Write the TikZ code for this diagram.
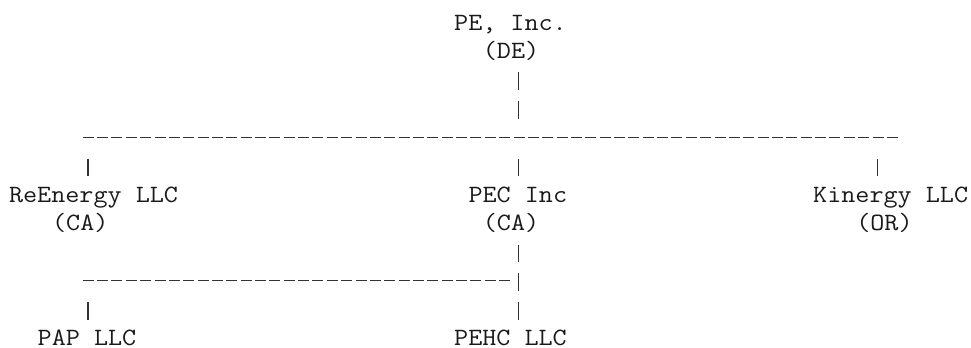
\documentclass[tikz,border=0pt]{standalone}
\usepackage{fontspec}
\setmonofont[FakeStretch=1.1]{Latin Modern Mono}
\newcommand\colx[1]{(9+(#1)*14.36)}
\newcommand\rowy[1]{(30+(#1)*28.7)}
\begin{document}
\begin{tikzpicture}[x=0.75pt,y=-0.75pt,
  lbl/.style={anchor=base west,inner sep=0pt,outer sep=0pt,
    font=\ttfamily\fontsize{18.65pt}{21.5pt}\selectfont,text=black!90},
  pipes/.style={draw=black!80,line width=0.9pt,dash pattern=on 13.125pt off 8.4pt},
  hyph/.style={draw=black!80,line width=0.9pt,dash pattern=on 8.25pt off 2.52pt}]
\useasboundingbox (0,0) rectangle (971,347);
% entities
\node[lbl] (pe)     at ({\colx{31}},{\rowy{0}}) {PE, Inc.};
\node[lbl] (de)     at ({\colx{33}},{\rowy{1}}) {(DE)};
\node[lbl] (reen)   at ({\colx{0}},{\rowy{6}})  {ReEnergy LLC};
\node[lbl] (reenst) at ({\colx{3}},{\rowy{7}})  {(CA)};
\node[lbl] (pec)    at ({\colx{32}},{\rowy{6}}) {PEC Inc};
\node[lbl] (pecst)  at ({\colx{33}},{\rowy{7}}) {(CA)};
\node[lbl] (kin)    at ({\colx{56}},{\rowy{6}}) {Kinergy LLC};
\node[lbl] (kinst)  at ({\colx{59}},{\rowy{7}}) {(OR)};
\node[lbl] (pap)    at ({\colx{2}},{\rowy{11}}) {PAP LLC};
\node[lbl] (pehc)   at ({\colx{31}},{\rowy{11}}) {PEHC LLC};
% connector end points
\coordinate (peDown)   at ({\colx{35.5}},{\rowy{2}-15});
\coordinate (peBus)    at ({\colx{35.5}},{\rowy{3}+2.5});
\coordinate (busL)     at ({\colx{5}+1.9},{\rowy{4}-7.5});
\coordinate (busR)     at ({\colx{61}+12.9},{\rowy{4}-7.5});
\coordinate (reenUp)   at ({\colx{5.5}},{\rowy{5}-15});
\coordinate (reenTop)  at ({\colx{5.5}},{\rowy{5}+2.5});
\coordinate (pecUp)    at ({\colx{35.5}},{\rowy{5}-15});
\coordinate (pecTop)   at ({\colx{35.5}},{\rowy{5}+2.5});
\coordinate (kinUp)    at ({\colx{60.5}},{\rowy{5}-15});
\coordinate (kinTop)   at ({\colx{60.5}},{\rowy{5}+2.5});
\coordinate (pecDown)  at ({\colx{35.5}},{\rowy{8}-15});
\coordinate (pehcTop)  at ({\colx{35.5}},{\rowy{10}+2.5});
\coordinate (bus2L)    at ({\colx{5}+1.9},{\rowy{9}-7.5});
\coordinate (bus2R)    at ({\colx{34}+12.9},{\rowy{9}-7.5});
\coordinate (papUp)    at ({\colx{5.5}},{\rowy{10}-15});
\coordinate (papTop)   at ({\colx{5.5}},{\rowy{10}+2.5});
% connectors
\draw[pipes] (peDown) -- (peBus);
\draw[hyph] (busL) -- (busR);
\draw[pipes] (reenUp) -- (reenTop);
\draw[pipes] (pecUp) -- (pecTop);
\draw[pipes] (kinUp) -- (kinTop);
\draw[pipes] (pecDown) -- (pehcTop);
\draw[hyph] (bus2L) -- (bus2R);
\draw[pipes] (papUp) -- (papTop);
\end{tikzpicture}
\end{document}
